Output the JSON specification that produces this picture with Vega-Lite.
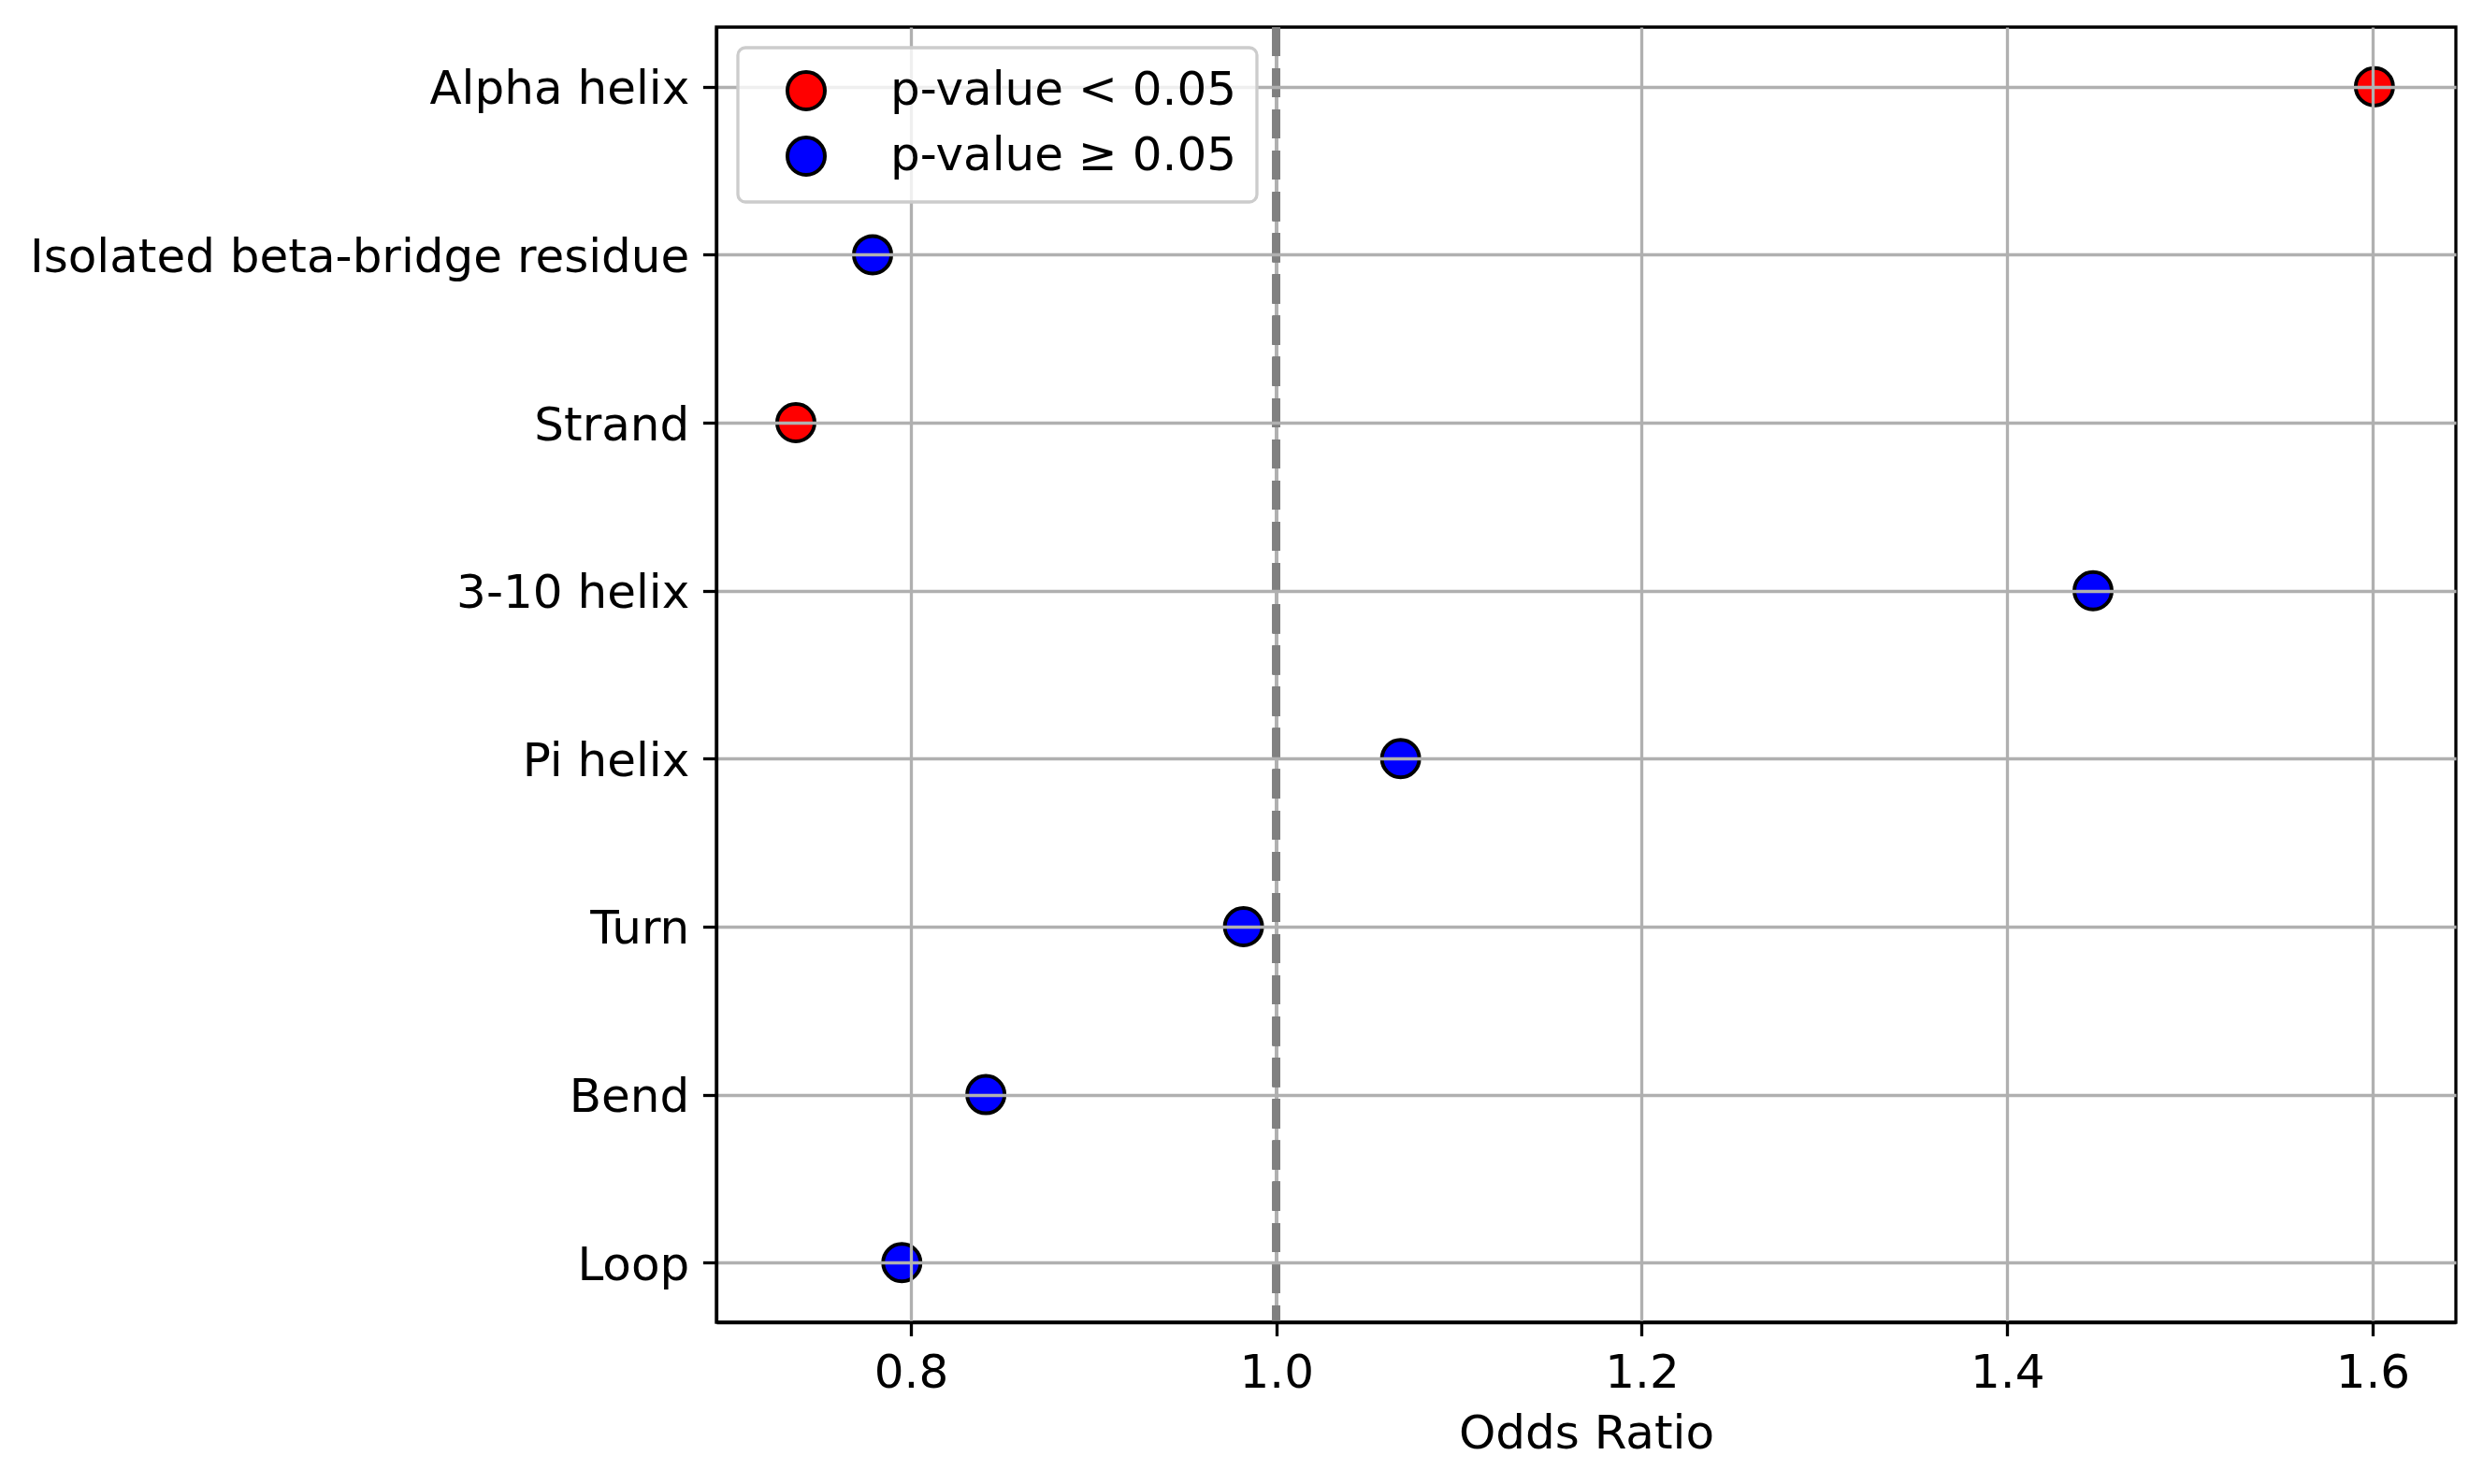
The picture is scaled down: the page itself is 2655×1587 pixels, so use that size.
{
  "$schema": "https://vega.github.io/schema/vega-lite/v6.json",
  "width": 1860,
  "height": 1385,
  "autosize": {"type": "none"},
  "padding": {"left": 766, "top": 29, "right": 29, "bottom": 173},
  "background": "white",
  "config": {
    "font": "DejaVu Sans",
    "view": {"stroke": "black", "strokeWidth": 3.3},
    "legend": {
      "orient": "none",
      "legendX": 23,
      "legendY": 22,
      "labelFontSize": 50,
      "labelColor": "black",
      "labelFont": "DejaVu Sans",
      "labelLimit": 1000,
      "symbolType": "circle",
      "symbolSize": 1600,
      "symbolStrokeColor": "black",
      "symbolStrokeWidth": 4,
      "fillColor": "rgba(255,255,255,0.8)",
      "strokeColor": "#cccccc",
      "strokeWidth": 3.3,
      "cornerRadius": 8,
      "padding": 21,
      "rowPadding": 14,
      "symbolOffset": 27,
      "labelOffset": 65,
      "zindex": 2
    }
  },
  "data": {
    "values": [
      {"structure": "Alpha helix", "odds": 1.601, "sig": "p-value < 0.05"},
      {"structure": "Isolated beta-bridge residue", "odds": 0.779, "sig": "p-value ≥ 0.05"},
      {"structure": "Strand", "odds": 0.737, "sig": "p-value < 0.05"},
      {"structure": "3-10 helix", "odds": 1.447, "sig": "p-value ≥ 0.05"},
      {"structure": "Pi helix", "odds": 1.068, "sig": "p-value ≥ 0.05"},
      {"structure": "Turn", "odds": 0.982, "sig": "p-value ≥ 0.05"},
      {"structure": "Bend", "odds": 0.841, "sig": "p-value ≥ 0.05"},
      {"structure": "Loop", "odds": 0.795, "sig": "p-value ≥ 0.05"}
    ]
  },
  "layer": [
    {
      "mark": {"type": "rule", "color": "#b0b0b0", "strokeWidth": 3.3},
      "encoding": {
        "x": {"datum": 1.0, "type": "quantitative", "title": "Odds Ratio"}
      }
    },
    {
      "mark": {"type": "rule", "color": "#808080", "strokeWidth": 8.3, "strokeDash": [30.8, 13.3]},
      "encoding": {
        "x": {"datum": 1.0, "type": "quantitative", "title": "Odds Ratio"}
      }
    },
    {
      "mark": {"type": "point", "shape": "circle", "filled": true, "size": 1600, "stroke": "black", "strokeWidth": 4, "opacity": 1},
      "encoding": {
        "x": {
          "field": "odds",
          "type": "quantitative",
          "title": "Odds Ratio",
          "scale": {"domain": [0.6935, 1.6456], "nice": false, "zero": false},
          "axis": {
            "values": [0.8, 1.0, 1.2, 1.4, 1.6],
            "format": ".1f",
            "grid": true,
            "gridColor": "#b0b0b0",
            "gridWidth": 3.3,
            "gridOpacity": {"condition": {"test": "abs(datum.value - 1) < 0.001", "value": 0}, "value": 1},
            "domainColor": "black",
            "domainWidth": 3.3,
            "tickColor": "black",
            "tickWidth": 3.3,
            "tickSize": 14.6,
            "labelFontSize": 50,
            "labelColor": "black",
            "labelPadding": 15,
            "titleFontSize": 50,
            "titleFontWeight": "normal",
            "titleColor": "black",
            "titlePadding": 15,
            "zindex": 1
          }
        },
        "y": {
          "field": "structure",
          "type": "nominal",
          "title": null,
          "sort": ["Alpha helix", "Isolated beta-bridge residue", "Strand", "3-10 helix", "Pi helix", "Turn", "Bend", "Loop"],
          "scale": {"type": "point", "padding": 0.355},
          "axis": {
            "grid": true,
            "gridColor": "#b0b0b0",
            "gridWidth": 3.3,
            "domainColor": "black",
            "domainWidth": 3.3,
            "tickColor": "black",
            "tickWidth": 3.3,
            "tickSize": 14.6,
            "labelFontSize": 50,
            "labelColor": "black",
            "labelPadding": 14.6,
            "labelOffset": 3,
            "labelLimit": 1000,
            "zindex": 1
          }
        },
        "color": {
          "field": "sig",
          "type": "nominal",
          "scale": {"domain": ["p-value < 0.05", "p-value ≥ 0.05"], "range": ["#ff0000", "#0000ff"]},
          "legend": {"title": null}
        }
      }
    }
  ]
}
